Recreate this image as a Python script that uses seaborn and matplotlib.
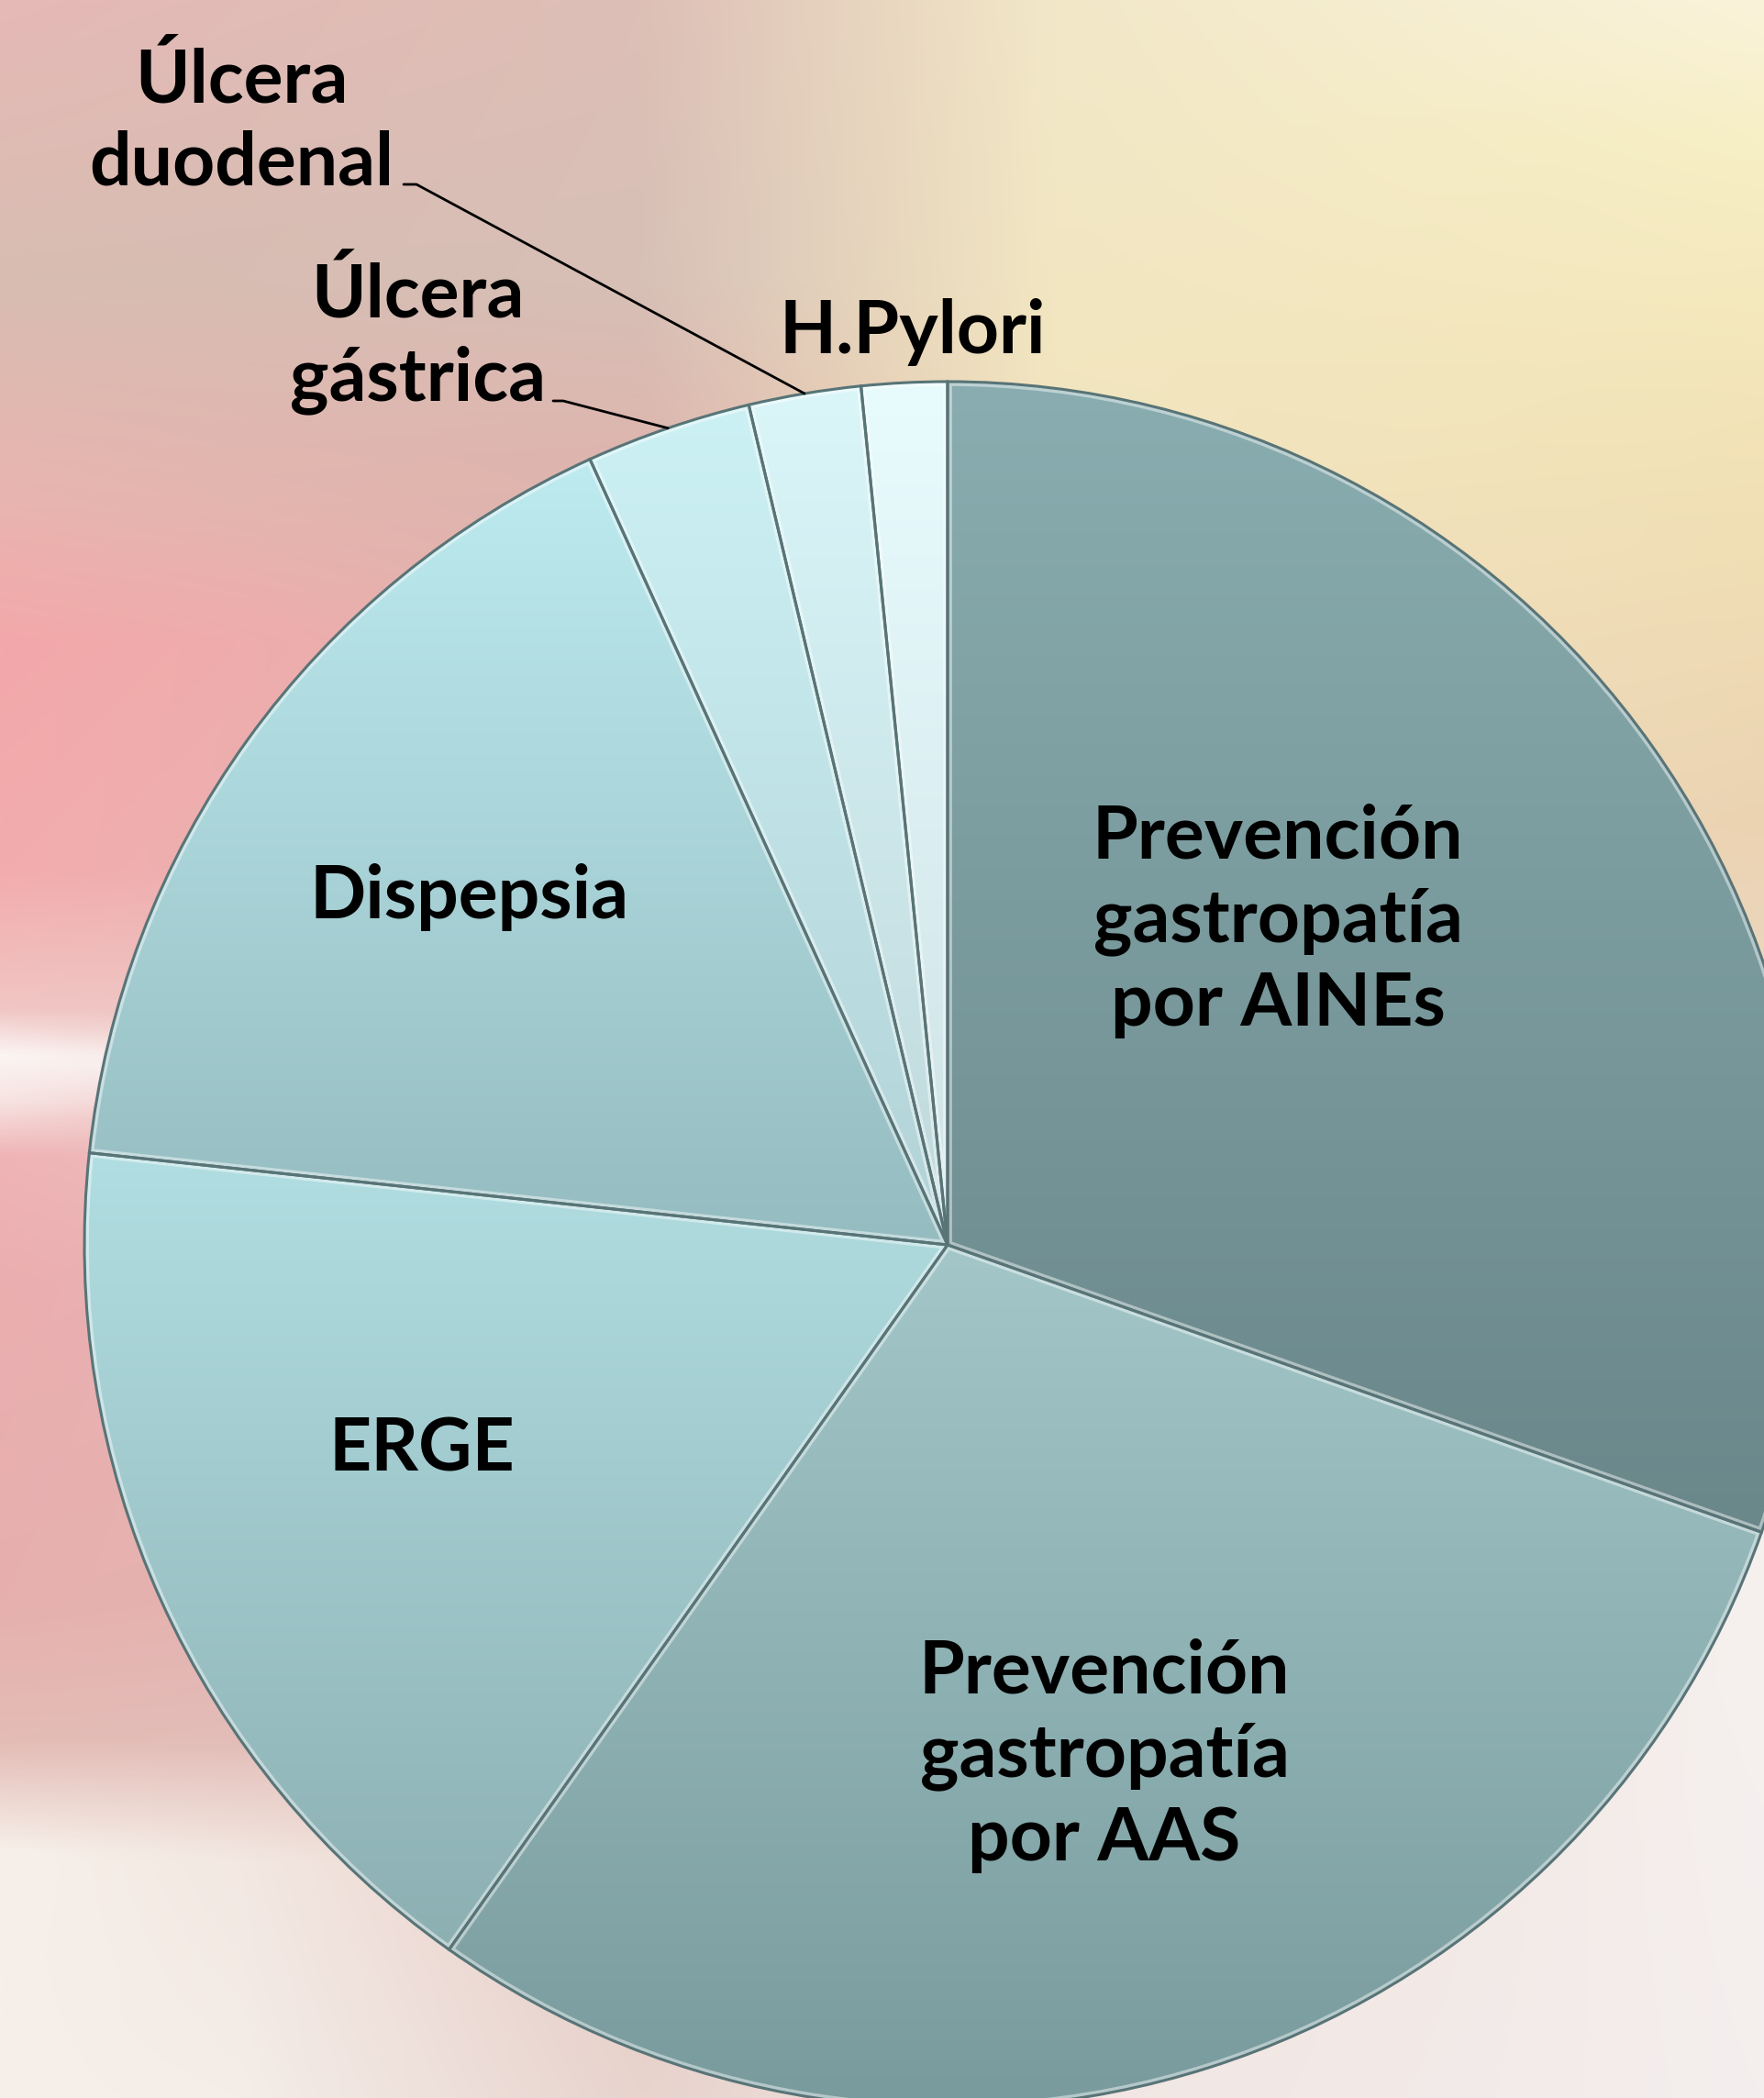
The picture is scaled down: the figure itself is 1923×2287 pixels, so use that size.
import numpy as np
import matplotlib
matplotlib.use("Agg")
import matplotlib.pyplot as plt
import seaborn as sns
from matplotlib.colors import to_rgb
from matplotlib.patches import Wedge

# chart data (shares, percent)
labels = ["Prevención\ngastropatía\npor AINEs", "Prevención\ngastropatía\npor AAS",
          "ERGE", "Dispepsia", "Úlcera\ngástrica", "Úlcera\nduodenal", "H.Pylori"]
shares = [30.4, 29.4, 16.9, 16.5, 3.1, 2.1, 1.6]
top_colors = ["#89adb0", "#a3c7c9", "#b1dee2", "#bdebf0", "#ccf1f5", "#daf6f9", "#e8fbfd"]
bottom_colors = ["#6a878a", "#789a9c", "#8cafb2", "#95bcc0", "#b2d2d6", "#bfd8dc", "#cfe2e6"]

W, H = 1923, 2287


def make_background():
    # soft blurred backdrop: colour profiles down a few columns, blended across
    col_x = [0, 260, 700, 1150, 1923]
    profiles = [
        ([0, 300, 550, 700, 950, 1100, 1150, 1200, 1260, 1400, 1750, 1900, 2020, 2287],
         ["#e6b9b6", "#d8bdb2", "#e9b4af", "#f3a8aa", "#f3acad", "#f0c6c4", "#fbf5f3",
          "#f7e4e2", "#efb4b6", "#ebaeb0", "#e6b0ae", "#e4bcb6", "#f7f0ea", "#f6efea"]),
        ([0, 300, 550, 700, 950, 1120, 1160, 1220, 1400, 1750, 1900, 2030, 2287],
         ["#e2bbb6", "#d7bdb3", "#e4b5af", "#efacac", "#eeb0b0", "#eec8c6", "#f6eceb",
          "#eec0c0", "#e9b2b2", "#e5b3b1", "#e3bdb8", "#f3e8e2", "#f4ede8"]),
        ([0, 300, 500, 1200, 2287],
         ["#ddbfb6", "#d7c0b7", "#ddb5ae", "#e9b0ae", "#e8d3cd"]),
        ([0, 400, 1200, 2287],
         ["#f2e8c8", "#f2e6c0", "#ecd6c0", "#f1e6e2"]),
        ([0, 150, 500, 900, 1300, 1650, 2287],
         ["#faf3da", "#f7efc5", "#f2e2b6", "#ebd3b2", "#eedcd0", "#f6f1ef", "#f4eeee"]),
    ]
    ny, nx = 460, 385
    ys = np.linspace(0, H, ny)
    xs = np.linspace(0, W, nx)
    cols = []
    for py, pc in profiles:
        rgb = np.array([to_rgb(c) for c in pc])
        cols.append(np.stack([np.interp(ys, py, rgb[:, k]) for k in range(3)], axis=1))
    cols = np.array(cols)  # (ncol, ny, 3)
    img = np.empty((ny, nx, 3))
    for k in range(3):
        for j in range(ny):
            img[j, :, k] = np.interp(xs, col_x, cols[:, j, k])
    return img


sns.set_theme(style="white")
plt.rcParams['font.family'] = ['Lato', 'DejaVu Sans']

fig = plt.figure(figsize=(W / 100, H / 100), dpi=100)
ax = fig.add_axes([0, 0, 1, 1])

ax.imshow(make_background(), extent=[0, W, 0, H], origin='upper',
          interpolation='bilinear', aspect='auto', zorder=0)

cx, cy, r = 1033, H - 1357, 941
wedges, _ = ax.pie(shares, startangle=90, counterclock=False, center=(cx, cy),
                   radius=r, frame=True,
                   wedgeprops=dict(linewidth=2.2, edgecolor="#587477", zorder=4))

for w, ct, cb in zip(wedges, top_colors, bottom_colors):
    w.set_facecolor("none")
    v = w.get_path().vertices
    x0, x1 = v[:, 0].min(), v[:, 0].max()
    y0, y1 = v[:, 1].min(), v[:, 1].max()
    t = np.linspace(0, 1, 256)[:, None]
    grad = (1 - t) * np.array(to_rgb(ct)) + t * np.array(to_rgb(cb))
    im = ax.imshow(grad[:, None, :].repeat(2, axis=1), extent=[x0, x1, y0, y1],
                   origin='upper', aspect='auto', interpolation='bilinear', zorder=2)
    im.set_clip_path(w)
    # soft light bevel just inside each slice edge
    bevel = Wedge(w.center, w.r, w.theta1, w.theta2, facecolor='none',
                  edgecolor=(1, 1, 1, 0.45), linewidth=7, zorder=3)
    ax.add_patch(bevel)
    bevel.set_clip_path(w)

txt = dict(ha='center', va='center', fontsize=58, fontweight='bold',
           color='black', linespacing=1.27, zorder=6)
ax.text(1393, H - 1004, labels[0], **txt)
ax.text(1204, H - 1914, labels[1], **txt)
ax.text(460, H - 1580, labels[2], **txt)
ax.text(511, H - 978, labels[3], **txt)
ax.text(995, H - 362, labels[6], **txt)
ax.text(455, H - 368, labels[4], **txt)
ax.text(263, H - 133, labels[5], **txt)


def edge_point(w):
    mid = np.deg2rad((w.theta1 + w.theta2) / 2)
    return cx + r * np.cos(mid), cy + r * np.sin(mid)


# leader lines from the small-slice labels to their slices
gx, gy = edge_point(wedges[4])
ax.plot([603, 614, gx], [H - 437, H - 437, gy], color='black', lw=2, zorder=5)
dx, dy = edge_point(wedges[5])
ax.plot([440, 454, dx], [H - 201, H - 201, dy], color='black', lw=2, zorder=5)

ax.set_xlim(0, W)
ax.set_ylim(0, H)
ax.set_aspect('equal')
ax.axis('off')
fig.savefig("out.png", dpi=100)
